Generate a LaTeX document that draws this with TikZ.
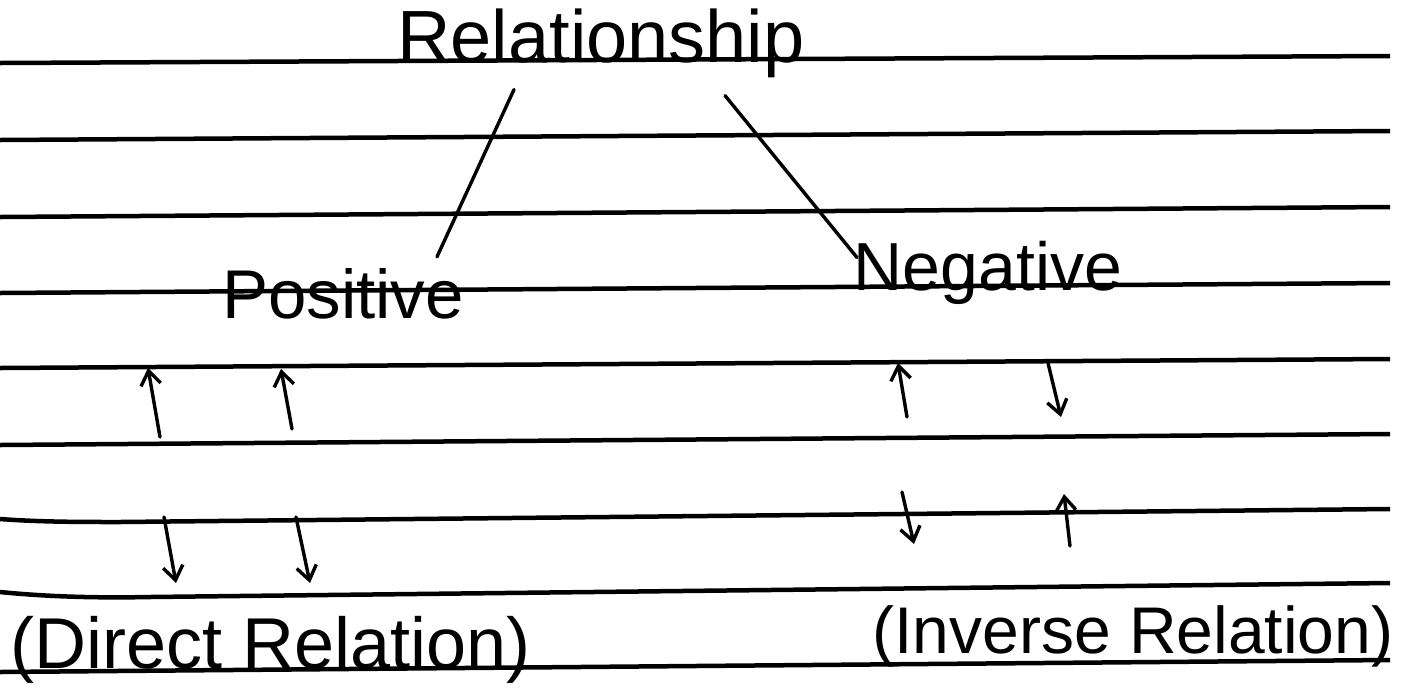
\documentclass[tikz,border=0pt]{standalone}
\usepackage{fontspec}
\setmainfont{Liberation Sans}
\usetikzlibrary{arrows.meta,calc}
\tikzset{
  rule/.style={line width=4.5pt, black},
  pen/.style={line width=3.4pt, black, line cap=round},
  arr/.style={pen, -{Straight Barb[length=14pt,width=20pt,line width=3.4pt]}},
  word/.style={anchor=base, inner sep=0pt, text=black},
}
\begin{document}
\begin{tikzpicture}[x=1pt,y=-1pt]
\useasboundingbox[fill=white] (0,0) rectangle (1407,697);
% ruled lines
\draw[rule] (0,63) -- (1390,56);
\draw[rule] (0,140) -- (1390,131);
\draw[rule] (0,217) -- (1390,207);
\draw[rule] (0,293) -- (1390,283);
\draw[rule] (0,368) -- (1390,359);
\draw[rule] (0,445) -- (1390,434);
\draw[rule] (0,519) .. controls (40,522) and (80,522) .. (120,522) -- (1390,509);
\draw[rule] (0,592) .. controls (50,597) and (100,598) .. (150,597) -- (1390,583);
\draw[rule] (0,672) -- (1390,660);
% words
\node[word, font=\fontsize{74}{74}\selectfont] (rel) at (601,62) {Relationship};
\node[word, font=\fontsize{69}{69}\selectfont] (pos) at (343,318) {Positive};
\node[word, font=\fontsize{68}{68}\selectfont] (neg) at (988,290) {Negative};
\node[word, font=\fontsize{72}{72}\selectfont] (dir) at (271,668) {(Direct Relation)};
\node[word, font=\fontsize{66}{66}\selectfont] (inv) at (1133,653) {(Inverse Relation)};
% connectors
\draw[pen] ($(rel.south)+(-87,12)$) -- ($(pos.north)+(94,-11)$);
\draw[pen] ($(rel.south)+(124,18)$) -- ($(neg.north)+(-131,17)$);
% arrows
\draw[arr] (160,437) -- (148,368);
\draw[arr] (292,429) -- (281,369);
\draw[arr] (907,417) -- (898,363);
\draw[arr] (1048,363) -- (1061,417);
\draw[arr] (164,517) -- (176,583);
\draw[arr] (296,517) -- (310,583);
\draw[arr] (902,492) -- (914,544);
\draw[arr] (1070,546) -- (1064,494);
\end{tikzpicture}
\end{document}
